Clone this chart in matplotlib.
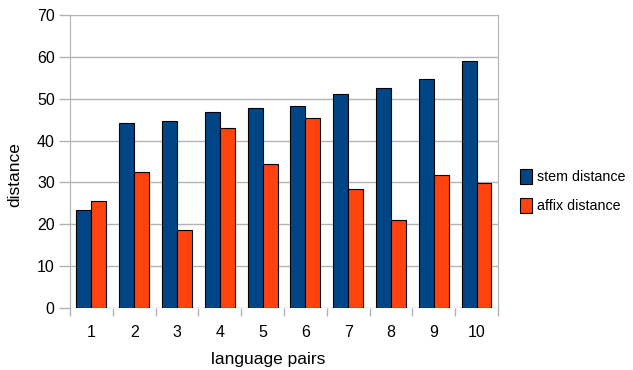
import numpy as np
import matplotlib
matplotlib.use("Agg")
import matplotlib.pyplot as plt
from matplotlib.patches import Patch

# dados
pairs = ["1", "2", "3", "4", "5", "6", "7", "8", "9", "10"]
stem_distance = [23.5, 44.1, 44.8, 46.9, 47.7, 48.3, 51.1, 52.6, 54.8, 59.0]
affix_distance = [25.6, 32.4, 18.6, 43.1, 34.5, 45.5, 28.5, 21.0, 31.7, 29.9]

blue = "#004586"
orange = "#ff420e"
grid_gray = "#b3b3b3"

plt.rcParams["font.family"] = ["Liberation Sans", "DejaVu Sans"]

fig = plt.figure(figsize=(6.33, 3.70), dpi=100)
ax = fig.add_axes([0.1106, 0.168, 0.676, 0.791])

x = np.arange(len(pairs))
w = 0.35
ax.bar(x - w / 2, stem_distance, w, color=blue, edgecolor="black", linewidth=0.8, zorder=3)
ax.bar(x + w / 2, affix_distance, w, color=orange, edgecolor="black", linewidth=0.8, zorder=3)

ax.set_xlim(-0.5, len(pairs) - 0.5)
ax.set_ylim(0, 70)
ax.set_yticks(range(0, 71, 10))
ax.yaxis.grid(True, color=grid_gray, linewidth=1, zorder=0)

# ticks nas fronteiras, rótulos no centro
ax.set_xticks(np.arange(-0.5, len(pairs)), minor=True)
ax.set_xticks(x)
ax.set_xticklabels(pairs)
ax.tick_params(axis="x", which="major", length=0, pad=12, labelsize=11.5)
ax.tick_params(axis="x", which="minor", length=6, color=grid_gray, width=1)
ax.tick_params(axis="y", length=8, color=grid_gray, width=1, labelsize=11.5, pad=3)

for s in ["left", "right"]:
    ax.spines[s].set_color(grid_gray)
for s in ["top", "bottom"]:
    ax.spines[s].set_visible(False)

ax.set_xlabel("language pairs", fontsize=12.5, va="center")
ax.set_ylabel("distance", fontsize=12.5, va="center")
ax.xaxis.set_label_coords(0.464, -0.175)
ax.yaxis.set_label_coords(-0.128, 0.457)

handles = [Patch(facecolor=blue, edgecolor="black", linewidth=0.8),
           Patch(facecolor=orange, edgecolor="black", linewidth=0.8)]
fig.legend(handles, ["stem distance", "affix distance"], loc="center left",
           bbox_to_anchor=(0.822, 0.483), frameon=False, fontsize=10.3,
           handlelength=0.85, handleheight=1.2, handletextpad=0.3, labelspacing=0.95,
           borderpad=0, borderaxespad=0)

fig.savefig("out.png", dpi=100)
